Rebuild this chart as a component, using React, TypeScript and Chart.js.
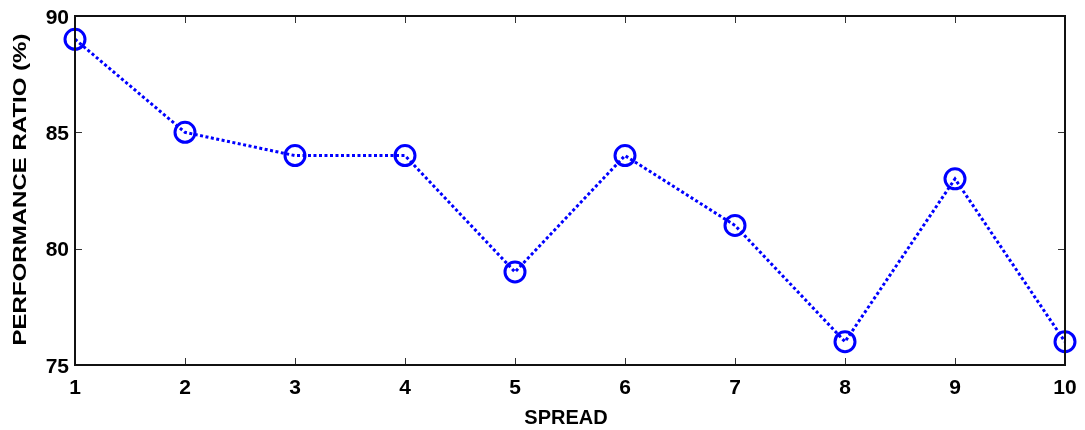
import React, { useEffect, useRef } from "react";
import { Chart, registerables } from "chart.js";

Chart.register(...registerables);

const spreads = ["1", "2", "3", "4", "5", "6", "7", "8", "9", "10"];
const performanceRatio = [89, 85, 84, 84, 79, 84, 81, 76, 83, 76];
const yTicks = [75, 80, 85, 90];
const xTitle = "SPREAD";
const yTitle = "PERFORMANCE RATIO (%)";

const FONT = "'Liberation Sans', Arial, Helvetica, sans-serif";

const boxPlugin = {
  id: "boxTicks",
  afterDraw(chart: any) {
    const { ctx, chartArea } = chart;
    const { left, right, top, bottom } = chartArea;
    const xs = chart.scales.x;
    const ys = chart.scales.y;
    const len = 7;
    ctx.save();
    ctx.strokeStyle = "#333";
    ctx.lineWidth = 1;
    ctx.beginPath();
    for (let i = 0; i < spreads.length; i++) {
      const px = Math.round(xs.getPixelForValue(i)) + 0.5;
      ctx.moveTo(px, bottom);
      ctx.lineTo(px, bottom - len);
      ctx.moveTo(px, top);
      ctx.lineTo(px, top + len);
    }
    for (const v of yTicks) {
      const py = Math.round(ys.getPixelForValue(v)) + 0.5;
      ctx.moveTo(left, py);
      ctx.lineTo(left + len, py);
      ctx.moveTo(right, py);
      ctx.lineTo(right - len, py);
    }
    ctx.stroke();
    ctx.lineWidth = 2;
    ctx.strokeStyle = "#111";
    ctx.strokeRect(left, top, right - left, bottom - top);

    // axis titles
    ctx.fillStyle = "#000";
    ctx.textAlign = "center";
    ctx.textBaseline = "alphabetic";
    ctx.font = `bold 20px ${FONT}`;
    ctx.fillText(xTitle, (left + right) / 2 - 4, 424);

    ctx.font = `bold 18px ${FONT}`;
    const natural = ctx.measureText(yTitle).width;
    const target = 312;
    ctx.translate(26, (top + bottom) / 2 - 1);
    ctx.rotate(-Math.PI / 2);
    ctx.scale(target / natural, 1);
    ctx.fillText(yTitle, 0, 0);
    ctx.restore();
  },
};

export default function App() {
  const ref = useRef<HTMLCanvasElement>(null);
  useEffect(() => {
    if (!ref.current) return;
    const chart = new Chart(ref.current, {
      type: "line",
      data: {
        labels: spreads,
        datasets: [
          {
            data: performanceRatio,
            borderColor: "#0000ff",
            borderWidth: 3,
            borderDash: [3, 2.5],
            borderCapStyle: "butt",
            pointRadius: 10,
            pointHoverRadius: 10,
            pointBorderWidth: 3,
            pointBorderColor: "#0000ff",
            pointBackgroundColor: "rgba(0,0,0,0)",
            fill: false,
            tension: 0,
          },
        ],
      },
      options: {
        animation: false,
        responsive: false,
        maintainAspectRatio: false,
        layout: { padding: { left: 0, top: 16, right: 20, bottom: 0 } },
        plugins: { legend: { display: false }, tooltip: { enabled: false } },
        scales: {
          x: {
            type: "category",
            offset: false,
            afterFit(scale: any) {
              scale.height = 65;
              scale.paddingRight = 0;
              scale.paddingLeft = 0;
            },
            grid: { display: false, drawTicks: false },
            border: { display: false },
            ticks: {
              color: "#000",
              padding: 11,
              maxRotation: 0,
              autoSkip: false,
              font: { family: FONT, size: 21, weight: "bold" },
            },
          },
          y: {
            min: 75,
            max: 90,
            afterFit(scale: any) {
              scale.width = 75;
              scale.paddingTop = 0;
              scale.paddingBottom = 0;
            },
            afterBuildTicks(scale: any) {
              scale.ticks = yTicks.map((v) => ({ value: v }));
            },
            grid: { display: false, drawTicks: false },
            border: { display: false },
            ticks: {
              color: "#000",
              padding: 6,
              labelOffset: 2,
              font: { family: FONT, size: 21, weight: "bold" },
            },
          },
        },
      },
      plugins: [boxPlugin],
    } as any);
    return () => chart.destroy();
  }, []);
  return (
    <div style={{ position: "fixed", left: 0, top: 0, width: 1085, height: 430, background: "#fff" }}>
      <canvas ref={ref} width={1085} height={430} style={{ width: 1085, height: 430 }} />
    </div>
  );
}
